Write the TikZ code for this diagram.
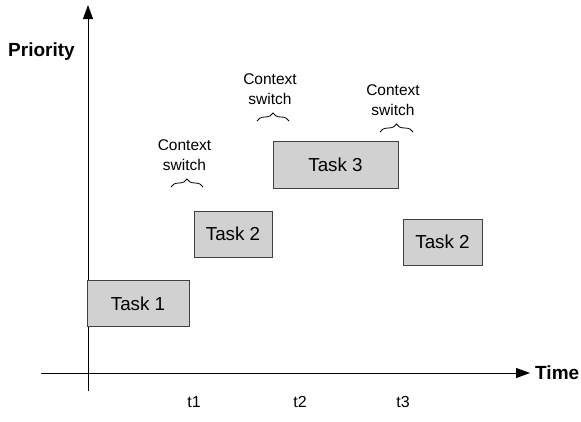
\documentclass[tikz,border=0pt]{standalone}
\usepackage{fontspec}
\setmainfont{Liberation Sans}
\usetikzlibrary{arrows.meta,decorations.pathreplacing}
\begin{document}
\begin{tikzpicture}[x=1pt,y=-1pt,
  task/.style={draw=black!75,fill=black!18,line width=0.9pt,inner sep=0pt,font=\fontsize{18.8}{19}\selectfont},
  lbl/.style={font=\fontsize{15.5}{19.5}\selectfont,align=center,inner sep=0pt},
  tick/.style={font=\fontsize{16}{16}\selectfont,inner sep=0pt},
  axis/.style={line width=0.9pt,-{Triangle[length=14pt,width=10pt]}},
  brc/.style={line width=0.8pt,decorate,decoration={brace,amplitude=8pt}}]
\useasboundingbox (0,0) rectangle (581,421);
% axes
\coordinate (yb) at (88,391);
\coordinate (yt) at (88,5);
\coordinate (xl) at (41,373);
\coordinate (xr) at (530,373);
\draw[axis] (yb) -- (yt);
\draw[axis] (xl) -- (xr);
\node[font=\bfseries\fontsize{19}{19}\selectfont,anchor=west,inner sep=0pt] (time) at (535,373) {Time};
\node[font=\bfseries\fontsize{19}{19}\selectfont,inner sep=0pt] (prio) at (41.5,52) {Priority};
% tasks
\node[task,minimum width=102pt,minimum height=46pt] (t1box) at (138,303.5) {Task 1};
\node[task,minimum width=78pt,minimum height=46pt] (t2box) at (233,234) {Task 2};
\node[task,minimum width=125pt,minimum height=47pt] (t3box) at (335.5,164.5) {Task 3};
\node[task,minimum width=79pt,minimum height=46pt] (t4box) at (442.5,242) {Task 2};
% context switch labels
\node[lbl] (cs1) at (184.5,155) {Context\\switch};
\node[lbl] (cs2) at (270,89) {Context\\switch};
\node[lbl] (cs3) at (393,100) {Context\\switch};
\coordinate (b1l) at (171,187); \coordinate (b1r) at (203,187);
\coordinate (b2l) at (257,121); \coordinate (b2r) at (289,121);
\coordinate (b3l) at (380,132); \coordinate (b3r) at (413,132);
\draw[brc] (b1l) -- (b1r);
\draw[brc] (b2l) -- (b2r);
\draw[brc] (b3l) -- (b3r);
% time ticks
\node[tick] (tt1) at (194,402) {t1};
\node[tick] (tt2) at (300,402) {t2};
\node[tick] (tt3) at (403,402) {t3};
\end{tikzpicture}
\end{document}
